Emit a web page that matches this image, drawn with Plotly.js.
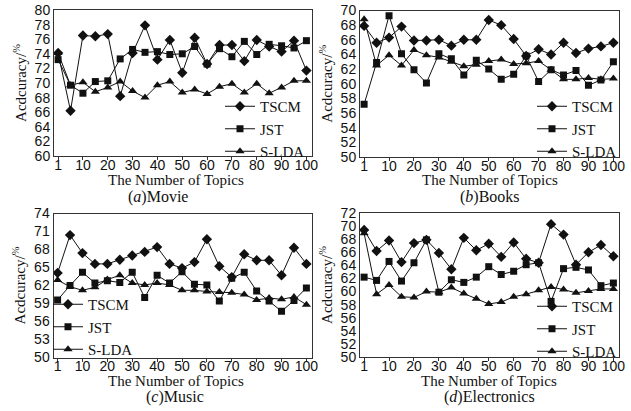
<!DOCTYPE html>
<html><head><meta charset="utf-8">
<script src="https://cdn.plot.ly/plotly-3.0.1.min.js"></script>
<style>html,body{margin:0;padding:0;background:#fff}#chart{width:631px;height:411px}</style>
</head><body><div id="chart"></div><script>
// Number of topics (categorical positions)
var topics = [1,5,10,15,20,25,30,35,40,45,50,55,60,65,70,75,80,85,90,95,100];
var tickLabels = [1,10,20,30,40,50,60,70,80,90,100];
var seriesNames = ['TSCM','JST','S-LDA'];
var xTitle = 'The Number of Topics';
var yTitle = 'Acdcuracy/<sup>%</sup>';

// (a) Movie
var tscmMovie = [74.1,66.2,76.5,76.4,76.7,68.2,74.1,77.9,73.2,75.9,71.4,76.2,72.6,75.2,75.2,73.0,75.9,75.0,74.3,75.8,71.7];
var jstMovie  = [73.2,69.7,68.6,70.2,70.3,73.3,74.6,74.2,74.3,73.9,74.0,75.0,72.6,74.7,73.6,75.7,73.9,75.3,75.1,74.8,75.8];
var sldaMovie = [74.1,69.7,70.1,68.8,69.4,70.2,68.9,68.0,69.7,70.2,68.7,69.1,68.5,69.5,69.9,68.7,69.9,68.6,69.4,70.3,70.3];
// (b) Books
var tscmBooks = [67.9,65.6,66.3,67.8,65.9,65.9,66.0,65.2,66.0,66.0,68.7,68.0,66.1,63.8,64.7,64.0,65.6,64.2,64.8,65.1,65.6];
var jstBooks  = [57.2,62.9,69.3,64.1,61.9,60.1,64.1,63.4,61.2,63.2,62.0,60.6,61.3,63.8,60.3,61.9,61.2,61.8,59.8,60.5,63.0];
var sldaBooks = [68.8,62.5,63.9,62.5,64.6,63.9,63.6,63.0,62.4,62.6,63.1,63.3,62.7,62.8,63.1,61.9,60.6,60.6,60.8,60.6,60.7];
// (c) Music
var tscmMusic = [64.1,70.4,67.4,65.6,65.6,66.3,67.0,67.6,68.4,65.6,64.9,65.9,69.7,65.2,63.4,67.2,66.2,66.2,63.7,68.3,65.6];
var jstMusic  = [59.6,62.0,64.2,62.4,62.8,62.5,64.2,60.0,63.7,62.4,64.3,62.2,62.1,59.4,63.2,64.2,61.1,59.4,57.7,59.5,61.6];
var sldaMusic = [62.9,61.8,61.2,61.7,63.0,63.7,62.4,62.1,62.4,62.1,61.2,61.2,61.0,60.9,60.8,60.5,59.6,59.9,59.7,60.1,58.8];
// (d) Electronics
var tscmElec = [69.4,66.2,67.8,64.5,67.4,67.9,65.9,63.4,68.2,66.3,67.3,65.3,67.5,65.0,64.4,70.3,68.7,64.1,66.0,67.1,65.4];
var jstElec  = [62.2,61.7,64.6,61.6,64.4,67.9,59.9,61.8,61.4,62.2,63.8,62.6,63.1,64.1,64.4,58.5,63.5,63.7,63.3,60.9,61.3];
var sldaElec = [68.9,59.6,61.0,59.2,59.1,60.0,59.9,60.6,59.7,58.9,58.1,58.4,59.2,59.6,60.2,60.7,60.3,59.8,60.1,60.4,60.4];

var panelTitles = ['(<i>a</i>)Movie','(<i>b</i>)Books','(<i>c</i>)Music','(<i>d</i>)Electronics'];
var yTicks = [
  [60,62,64,66,68,70,72,74,76,78,80],
  [50,52,54,56,58,60,62,64,66,68,70],
  [50,53,56,59,62,65,68,71,74],
  [50,52,54,56,58,60,62,64,66,68,70,72]
];
var panelData = [
  [tscmMovie, jstMovie, sldaMovie],
  [tscmBooks, jstBooks, sldaBooks],
  [tscmMusic, jstMusic, sldaMusic],
  [tscmElec, jstElec, sldaElec]
];

var W = 631, H = 411;
var boxes = [ // left, right, top, bottom in px
  [54, 312, 10, 156],
  [360, 619, 10.5, 157],
  [53.5, 312, 213.5, 357.5],
  [360, 619, 213, 357]
];
var symbols = ['diamond','square','triangle-up'];
var msizes = [8, 7, 8];
var serif = 'Liberation Serif, Times New Roman, serif';
var sans = 'Liberation Sans, Arial, sans-serif';
var ink = '#111';

var cats = topics.map(String);
var traces = [];
var layout = {
  width: W, height: H,
  margin: {l:0, r:0, t:0, b:0},
  paper_bgcolor: '#fff', plot_bgcolor: '#fff',
  annotations: []
};
var legendPos = [ // x (left, px), y center (px)
  [220, 129], [532, 129], [48, 327], [532, 329]
];
var xTitlePos = [[176, 180], [490, 180], [176, 381], [489, 381]];
var subPos = [[158, 197], [490, 197], [175, 397], [489, 397]];

for (var p = 0; p < 4; p++) {
  var sfx = p === 0 ? '' : String(p + 1);
  var b = boxes[p];
  for (var s = 0; s < 3; s++) {
    traces.push({
      x: cats, y: panelData[p][s], name: seriesNames[s],
      type: 'scatter', mode: 'lines+markers',
      xaxis: 'x' + sfx, yaxis: 'y' + sfx, legend: 'legend' + sfx,
      line: {color: ink, width: 1},
      marker: {symbol: symbols[s], size: msizes[s], color: ink}
    });
  }
  layout['xaxis' + sfx] = {
    domain: [b[0] / W, b[1] / W], anchor: 'y' + sfx,
    type: 'category', range: [-0.33, 20.45],
    tickmode: 'array', tickvals: tickLabels.map(String), ticktext: tickLabels.map(String),
    ticks: 'outside', ticklen: 3, tickcolor: '#333', tickwidth: 1,
    ticklabelstandoff: -7,
    showline: true, mirror: true, linecolor: '#333', linewidth: 1,
    showgrid: false, zeroline: false,
    tickfont: {family: sans, size: 14, color: ink}
  };
  var yt = yTicks[p];
  layout['yaxis' + sfx] = {
    domain: [1 - b[3] / H, 1 - b[2] / H], anchor: 'x' + sfx,
    range: [yt[0], yt[yt.length - 1]],
    tickmode: 'array', tickvals: yt,
    ticks: '', showline: true, mirror: true, linecolor: '#333', linewidth: 1,
    showgrid: false, zeroline: false,
    tickfont: {family: sans, size: 14, color: ink},
    title: {text: yTitle, font: {family: serif, size: 15, color: ink}, standoff: 4}
  };
  layout['legend' + sfx] = {
    x: legendPos[p][0] / W, y: 1 - legendPos[p][1] / H,
    xanchor: 'left', yanchor: 'middle', xref: 'paper', yref: 'paper',
    bgcolor: 'rgba(0,0,0,0)', borderwidth: 0, tracegroupgap: 0,
    font: {family: serif, size: 15, color: ink}
  };
  layout.annotations.push({
    text: xTitle, xref: 'paper', yref: 'paper',
    x: xTitlePos[p][0] / W, y: 1 - xTitlePos[p][1] / H,
    xanchor: 'center', yanchor: 'middle', showarrow: false,
    font: {family: serif, size: 15, color: ink}
  });
  layout.annotations.push({
    text: panelTitles[p], xref: 'paper', yref: 'paper',
    x: subPos[p][0] / W, y: 1 - subPos[p][1] / H,
    xanchor: 'center', yanchor: 'middle', showarrow: false,
    font: {family: serif, size: 16, color: ink}
  });
}

Plotly.newPlot('chart', traces, layout, {displayModeBar: false, staticPlot: true});
</script></body></html>
